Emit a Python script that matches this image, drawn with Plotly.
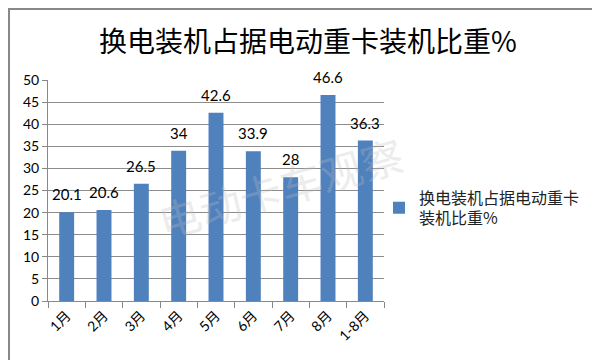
import plotly.graph_objects as go

categories = ["1月", "2月", "3月", "4月", "5月", "6月", "7月", "8月", "1-8月"]
values = [20.1, 20.6, 26.5, 34, 42.6, 33.9, 28, 46.6, 36.3]
series_name = "换电装机占据电动重卡<br>装机比重%"
title_text = "换电装机占据电动重卡装机比重%"
y_ticks = [0, 5, 10, 15, 20, 25, 30, 35, 40, 45, 50]

W, H = 600, 360
L, R, T, B = 40, 224, 72, 67
pw, ph = W - L - R, H - T - B

def px_to_paper_x(px):
    return (px - L) / pw

def px_to_paper_y(py):
    return (H - B - py) / ph

fig = go.Figure()
fig.add_trace(go.Bar(
    x=categories, y=values, name=series_name,
    marker=dict(color="#4F81BD", line=dict(width=0)),
    width=0.4, showlegend=True,
))

for c, v in zip(categories, values):
    fig.add_annotation(x=c, y=v, xref="x", yref="y", text=f"{v:g}", showarrow=False,
                       xanchor="center", yanchor="bottom", yshift=7,
                       font=dict(family="Lato, Open Sans, sans-serif", size=15, color="#000"))

fig.update_layout(
    width=W, height=H,
    margin=dict(l=L, r=R, t=T, b=B, autoexpand=False),
    paper_bgcolor="white", plot_bgcolor="white",
    showlegend=True,
    legend=dict(x=px_to_paper_x(371), y=px_to_paper_y(200), xanchor="left", yanchor="middle",
                font=dict(family="Noto Sans CJK SC", size=16, color="#222"),
                bgcolor="rgba(0,0,0,0)", itemwidth=30),
    bargap=0.6,
    xaxis=dict(
        type="category", showline=True, linecolor="#888", linewidth=1,
        ticks="outside", tickson="boundaries", ticklen=6, tickcolor="#888",
        tickangle=-45, showgrid=False,
        tickfont=dict(family="Lato, Open Sans, Noto Sans CJK SC", size=14, color="#000"),
    ),
    yaxis=dict(
        range=[0, 50], tickvals=y_ticks, showline=True, linecolor="#888", linewidth=1,
        ticks="outside", ticklen=5, tickcolor="#888",
        showgrid=True, gridcolor="#8c8c8c", gridwidth=1, zeroline=False,
        tickfont=dict(family="Lato, Open Sans, sans-serif", size=14, color="#000"),
    ),
)

# title
fig.add_annotation(text=title_text, xref="paper", yref="paper",
                   x=px_to_paper_x(300), y=px_to_paper_y(32), showarrow=False,
                   xanchor="center", yanchor="middle",
                   font=dict(family="Noto Sans CJK SC", size=28, color="#000"))

# watermark
fig.add_annotation(text="电动卡车观察", xref="paper", yref="paper",
                   x=px_to_paper_x(272), y=px_to_paper_y(178), showarrow=False,
                   xanchor="center", yanchor="middle",
                   textangle=-16, font=dict(family="Noto Sans CJK SC", size=42,
                                            color="rgba(190,190,190,0.3)"))

# outer border
fig.add_shape(type="rect", xref="paper", yref="paper",
              x0=px_to_paper_x(1), x1=px_to_paper_x(599),
              y0=px_to_paper_y(359), y1=px_to_paper_y(1),
              line=dict(color="#888", width=2), fillcolor="rgba(0,0,0,0)", layer="below")

fig.write_html("out.html")
